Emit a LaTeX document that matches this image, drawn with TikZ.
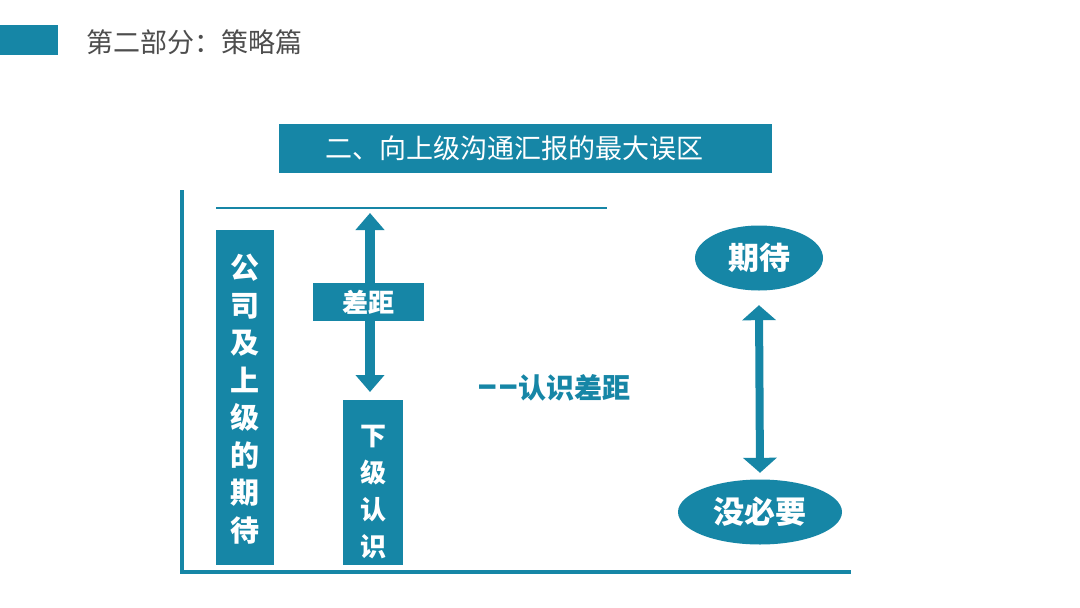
\documentclass[tikz,border=0pt]{standalone}
\usepackage{fontspec}
\setmainfont{Noto Sans CJK SC}
\usetikzlibrary{arrows.meta,shapes.geometric}
\definecolor{teal1}{RGB}{22,134,166}
\definecolor{gray1}{RGB}{77,77,77}
\begin{document}
\begin{tikzpicture}[x=1pt,y=-1pt,
  box/.style={fill=teal1, text=white, inner sep=0pt},
  vtext/.style={text=white, align=center, inner sep=0pt, font=\bfseries\fontsize{29}{37.5}\selectfont},
  oval/.style={ellipse, fill=teal1, text=white, inner sep=0pt, font=\bfseries\fontsize{31}{31}\selectfont},
  axisline/.style={draw=teal1, line width=3.5pt},
  bigarrow/.style={draw=teal1, line width=10pt, {Triangle[width=28pt,length=17pt]}-{Triangle[width=28pt,length=17pt]}},
  rarrow/.style={draw=teal1, line width=8pt, {Triangle[width=33pt,length=15pt]}-{Triangle[width=33pt,length=15pt]}}
]
\useasboundingbox[fill=white] (0,0) rectangle (1080,608);

% top tag and title
\node[box, minimum width=58pt, minimum height=30pt] (tag) at (29,40) {};
\node[text=gray1, anchor=west, inner sep=0pt, font=\fontsize{27}{27}\selectfont] (title) at (86,42) {第二部分：策略篇};

% header
\node[box, minimum width=493pt, minimum height=49pt] (head) at (525.5,148.5) {};
\node[text=white, inner sep=0pt, font=\fontsize{27}{27}\selectfont] (headtext) at (514.5,148.5) {二、向上级沟通汇报的最大误区};

% axes
\coordinate (axtop) at (182,190);
\coordinate (ax0) at (182,572);
\coordinate (axright) at (851,572);
\draw[axisline] (axtop) -- (ax0) -- (axright);

% top line
\coordinate (tl1) at (216,208);
\coordinate (tl2) at (607,208);
\draw[draw=teal1, line width=2.5pt] (tl1) -- (tl2);

% left box
\node[box, minimum width=58pt, minimum height=335pt] (exp) at (245,397.5) {};
\node[vtext] (exptext) at (245,399) {公\\司\\及\\上\\级\\的\\期\\待};

% lower box
\node[box, minimum width=60pt, minimum height=165pt] (sub) at (373,482.5) {};
\node[vtext, font=\bfseries\fontsize{26}{37}\selectfont] (subtext) at (373,492) {下\\级\\认\\识};

% gap arrow
\coordinate (gapTop) at (370,213);
\coordinate (gapBot) at (370,392);
\draw[bigarrow] (gapTop) -- (gapBot);
\node[box, minimum width=111pt, minimum height=38pt, font=\bfseries\fontsize{26}{26}\selectfont] (gap) at (368.5,302) {差距};

% caption
\node[text=teal1, anchor=west, inner sep=0pt, font=\bfseries\fontsize{28}{28}\selectfont] (cap) at (478,388) {\scalebox{0.72}[1.4]{—}\hspace{3pt}\scalebox{0.72}[1.4]{—}认识差距};

% right ovals
\node[oval, minimum width=128pt, minimum height=65pt] (qi) at (759,258) {期待};
\node[oval, minimum width=164pt, minimum height=65pt] (mei) at (760,512) {没必要};
\draw[rarrow] ([yshift=-14.5pt]qi.south) -- ([yshift=6.5pt]mei.north);
\end{tikzpicture}
\end{document}
